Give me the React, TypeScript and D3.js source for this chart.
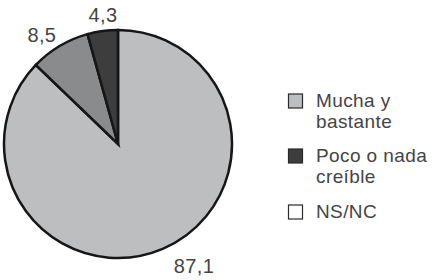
import { useEffect, useRef } from "react";
import * as d3 from "d3";

// slice values, clockwise from 12 o'clock
const sliceValues = [87.1, 8.5, 4.3];
const sliceLabels = ["87,1", "8,5", "4,3"];
const sliceColors = ["#bdbec0", "#8a8b8d", "#3d3d3e"];
// nudges so the labels sit where the original put them
const labelNudge = [
  [24, 0],
  [-8, 5],
  [3, 3],
];

const legendNames = [["Mucha y", "bastante"], ["Poco o nada", "creíble"], ["NS/NC"]];
const legendColors = ["#bdbec0", "#3d3d3e", "#ffffff"];

export default function App() {
  const svgRef = useRef<SVGSVGElement>(null);

  useEffect(() => {
    document.body.style.margin = "0";
    if (!svgRef.current) return;

    const width = 435;
    const height = 280;
    const cx = 118;
    const cy = 144;
    const radius = 114;

    const svg = d3.select(svgRef.current);
    svg.selectAll("*").remove();
    svg.attr("width", width).attr("height", height);

    const pie = d3
      .pie<number>()
      .sort(null)
      .startAngle(0)
      .endAngle(2 * Math.PI)
      .value((d) => d);
    const arcs = pie(sliceValues);

    const arc = d3.arc<d3.PieArcDatum<number>>().innerRadius(0).outerRadius(radius);
    const labelArc = d3.arc<d3.PieArcDatum<number>>().innerRadius(133).outerRadius(133);

    const g = svg.append("g").attr("transform", `translate(${cx},${cy})`);

    g.selectAll(".slice")
      .data(arcs)
      .enter()
      .append("path")
      .attr("class", "slice")
      .attr("d", arc)
      .attr("fill", (_, i) => sliceColors[i])
      .attr("stroke", "#161616")
      .attr("stroke-width", 2.5)
      .attr("stroke-linejoin", "miter");

    g.selectAll(".lbl")
      .data(arcs)
      .enter()
      .append("text")
      .attr("class", "lbl")
      .attr("x", (d, i) => labelArc.centroid(d)[0] + labelNudge[i][0])
      .attr("y", (d, i) => labelArc.centroid(d)[1] + labelNudge[i][1])
      .attr("dy", "0.35em")
      .attr("text-anchor", "middle")
      .attr("font-family", "Liberation Sans, Arial, sans-serif")
      .attr("font-size", 20)
      .attr("letter-spacing", 0.4)
      .attr("fill", "#444")
      .text((_, i) => sliceLabels[i]);

    // legend
    const legendY = d3.scaleOrdinal<number, number>().domain([0, 1, 2]).range([107, 162, 218]);
    const legend = svg
      .selectAll(".leg")
      .data(legendNames)
      .enter()
      .append("g")
      .attr("class", "leg")
      .attr("transform", (_, i) => `translate(288,${legendY(i)})`);

    legend
      .append("rect")
      .attr("x", 0.5)
      .attr("y", -13)
      .attr("width", 14)
      .attr("height", 14)
      .attr("fill", (_, i) => legendColors[i])
      .attr("stroke", "#2a2a2a")
      .attr("stroke-width", 1.2);

    legend
      .append("text")
      .attr("font-family", "Liberation Sans, Arial, sans-serif")
      .attr("font-size", 19)
      .attr("letter-spacing", 0.4)
      .attr("fill", "#444")
      .selectAll("tspan")
      .data((d) => d)
      .enter()
      .append("tspan")
      .attr("x", 28)
      .attr("y", (_, j) => j * 21)
      .text((t) => t);
  }, []);

  return <svg ref={svgRef} style={{ display: "block" }} />;
}
